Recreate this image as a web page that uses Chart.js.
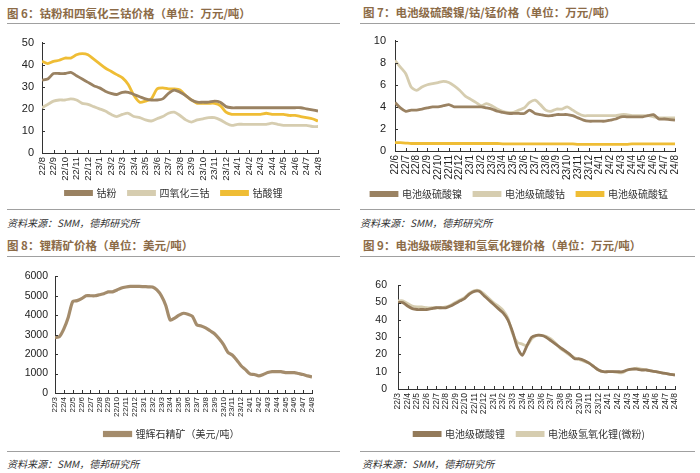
<!DOCTYPE html>
<html>
<head>
<meta charset="utf-8">
<script src="https://cdn.jsdelivr.net/npm/chart.js@4.4.1/dist/chart.umd.min.js"></script>
<style>
body{margin:0;width:700px;height:473px;background:#fff;position:relative;overflow:hidden;font-family:"Noto Sans CJK SC",sans-serif;}
.title{position:absolute;font-size:11.5px;line-height:14px;font-weight:bold;color:#8c6b47;white-space:nowrap;}
.rule{position:absolute;height:0;border-top:1.5px solid #a0a0a0;}
.src{position:absolute;font-size:10px;line-height:12px;color:#333;font-style:italic;white-space:nowrap;}
.box{position:absolute;}
</style>
</head>
<body>
<div class="title" style="left:7px;top:6px">图 6：钴粉和四氧化三钴价格（单位：万元/吨）</div>
<div class="rule" style="left:7px;top:23px;width:333px"></div>
<div class="rule" style="left:7px;top:209px;width:333px"></div>
<div class="src" style="left:7px;top:217px">资料来源：SMM，德邦研究所</div>

<div class="title" style="left:363px;top:5px">图 7：电池级硫酸镍/钴/锰价格（单位：万元/吨）</div>
<div class="rule" style="left:360px;top:23px;width:335px"></div>
<div class="rule" style="left:360px;top:209px;width:335px"></div>
<div class="src" style="left:360px;top:217px">资料来源：SMM，德邦研究所</div>

<div class="title" style="left:7px;top:238px">图 8：锂精矿价格（单位：美元/吨）</div>
<div class="rule" style="left:7px;top:256px;width:333px"></div>
<div class="rule" style="left:7px;top:451px;width:333px"></div>
<div class="src" style="left:7px;top:458px">资料来源：SMM，德邦研究所</div>

<div class="title" style="left:363px;top:238px">图 9：电池级碳酸锂和氢氧化锂价格（单位：万元/吨）</div>
<div class="rule" style="left:360px;top:256px;width:335px"></div>
<div class="rule" style="left:360px;top:451px;width:335px"></div>
<div class="src" style="left:362px;top:458px">资料来源：SMM，德邦研究所</div>

<div class="box" style="left:0px;top:28px"><canvas id="c6" width="345" height="185"></canvas></div>
<div class="box" style="left:350px;top:25px"><canvas id="c7" width="350" height="188"></canvas></div>
<div class="box" style="left:0px;top:263px"><canvas id="c8" width="345" height="188"></canvas></div>
<div class="box" style="left:350px;top:268px"><canvas id="c9" width="350" height="181"></canvas></div>

<script>
// month labels (one tick per month), data is twice a month
const months6 = ['22/8','22/9','22/10','22/11','22/12','23/1','23/2','23/3','23/4','23/5','23/6','23/7','23/8',
  '23/9','23/10','23/11','23/12','24/1','24/2','24/3','24/4','24/5','24/6','24/7','24/8'];
const months7 = ['22/6','22/7','22/8','22/9','22/10','22/11','22/12','23/1','23/2','23/3','23/4','23/5','23/6','23/7',
  '23/8','23/9','23/10','23/11','23/12','24/1','24/2','24/3','24/4','24/5','24/6','24/7','24/8'];
const months89 = ['22/3','22/4','22/5','22/6','22/7','22/8','22/9','22/10','22/11','22/12','23/1','23/2','23/3','23/4',
  '23/5','23/6','23/7','23/8','23/9','23/10','23/11','23/12','24/1','24/2','24/3','24/4','24/5','24/6','24/7','24/8'];

// 图6
const cobaltPowder = [33,33.5,36,36,36,36.5,35,33.5,32,30.5,29.5,28,27,26.5,27.5,27.5,26.5,25.5,24.5,24,24,24.5,27,28.5,27.5,
  26,24,23,23,23,23.5,23,21,20.5,20.5,20.5,20.5,20.5,20.5,20.5,20.5,20.5,20.5,20.5,20.5,20.5,20,19.5,19];
const cobaltOxide = [20.5,22,23.5,24,24,24.5,24,22.5,22,21,20,19,17.5,16.5,17.5,18,16.5,16,15,14.5,15.5,16.5,18,18.5,17,
  15,14,15,15.5,16,16,15,13.5,12.5,13,13,13,13,13,13,13.5,13,12.5,12.5,12.5,12.5,12.5,12,12];
const lco = [41.5,40.5,41.5,42,43,43,44.5,45,44.5,42.5,40.5,38.5,37,35.5,34,31,26,23,23.5,24.5,29,29.5,29,29,28.5,
  26,24,22.5,22.5,22.5,22.5,21.5,18.5,17.5,17.5,17.5,17.5,17.5,17.5,18,17.5,17.5,17.5,17,17,16.5,16,15.5,14.5];

// 图7
const nickelSulfate = [4.4,3.9,3.6,3.7,3.7,3.8,3.9,4.0,4.0,4.1,4.2,4.0,4.0,4.0,4.0,4.0,4.0,3.9,3.8,3.6,3.5,3.4,3.4,3.4,3.4,3.7,
  3.4,3.3,3.2,3.2,3.3,3.3,3.3,3.2,3.0,2.8,2.7,2.7,2.7,2.7,2.8,2.9,3.1,3.1,3.1,3.1,3.1,3.2,3.3,2.9,2.9,2.85,2.8];
const cobaltSulfate = [8.2,7.6,7.0,5.8,5.5,5.8,6.0,6.1,6.2,6.3,6.2,5.9,5.5,5.0,4.7,4.4,4.1,4.3,4.1,3.8,3.6,3.5,3.5,3.7,3.9,4.4,
  4.6,4.2,3.7,3.6,3.8,3.8,4.0,3.7,3.4,3.2,3.2,3.2,3.2,3.2,3.2,3.2,3.3,3.3,3.2,3.2,3.2,3.2,3.1,3.0,3.0,3.0,3.0];
const manganeseSulfate = [0.75,0.75,0.72,0.68,0.68,0.68,0.68,0.68,0.68,0.68,0.68,0.68,0.68,0.68,0.68,0.68,0.68,0.68,0.68,0.68,
  0.65,0.65,0.65,0.65,0.65,0.65,0.65,0.65,0.65,0.65,0.65,0.65,0.65,0.65,0.6,0.6,0.6,0.6,0.6,0.6,0.6,0.6,0.6,0.6,
  0.65,0.65,0.65,0.65,0.65,0.65,0.65,0.65,0.65];

// 图8
const spodumene = [2850,2900,3300,3900,4700,4750,4850,5000,5000,5000,5050,5100,5200,5200,5300,5400,5450,5480,5480,5480,
  5470,5460,5450,5300,5000,4500,3750,3850,4000,4100,4050,3950,3500,3450,3350,3200,3050,2800,2500,2100,1950,1700,1400,
  1200,980,950,880,950,1050,1100,1100,1100,1050,1050,1050,1000,950,880,830];

// 图9
const carbonate = [50,50,48,46.5,46,46,46,46.5,47,47,47,48,49.5,51,52.5,55,56.5,56.5,54,51.5,49,46.5,44,40,33,24,19.5,25,
  30,31,31,30,28,26,24,22,20,17.5,17.5,16.5,15,13,11,10,10,10,10,10,11,11.5,11.5,11,11,10.5,10,9.5,9,8.5,8];
const hydroxide = [51,51,49.5,48,47.5,47.5,47,47,47,47,47.5,48.5,50,51.5,53,55.5,57,57,55,52.5,50,48,45.5,41,32,27,26,25,
  29,31,31,30.5,29,26.5,23.5,21.5,19.5,18,17,16,15,13,11,10,10,10,9.5,9.5,11,11.5,12,11.5,11,10.5,10,9.5,9,8.5,8.5];

const BROWN = '#9a8262', LIGHT = '#d6cdb0', YELLOW = '#efbd35';
const NUM_FONT = '"Liberation Sans", Arial, sans-serif';
const CJK_FONT = '"Noto Sans CJK SC", sans-serif';

function pts(arr) { return arr.map((v, i) => ({x: i / 2, y: v})); }

// small tick marks drawn on the inside of both axes
const innerTicks = {
  id: 'innerTicks',
  afterDraw(chart) {
    const ctx = chart.ctx, xs = chart.scales.x, ys = chart.scales.y;
    ctx.save();
    ctx.strokeStyle = '#333';
    ctx.lineWidth = 1;
    ctx.beginPath();
    xs.ticks.forEach((t, i) => {
      const px = Math.round(xs.getPixelForTick(i)) + 0.5;
      ctx.moveTo(px, ys.bottom); ctx.lineTo(px, ys.bottom - 3);
    });
    ys.ticks.forEach((t, i) => {
      const py = Math.round(ys.getPixelForTick(i)) + 0.5;
      ctx.moveTo(xs.left, py); ctx.lineTo(xs.left + 3, py);
    });
    ctx.stroke();
    ctx.restore();
  }
};

// nudge the legend box after layout
const legendShift = {
  id: 'legendShift',
  afterLayout(chart, args, opts) {
    const lg = chart.legend;
    if (!lg) return;
    lg.left += opts.dx || 0; lg.right += opts.dx || 0;
    lg.top += opts.dy || 0; lg.bottom += opts.dy || 0;
  }
};

function makeChart(id, o) {
  const datasets = o.series.map(s => ({
    label: s.label,
    data: pts(s.data),
    borderColor: s.color,
    backgroundColor: s.color,
    borderWidth: o.lineWidth || 2.8,
    pointRadius: 0,
    tension: 0.25
  }));
  return new Chart(document.getElementById(id), {
    type: 'line',
    data: {datasets: datasets},
    plugins: [innerTicks, legendShift],
    options: {
      responsive: false,
      animation: false,
      layout: {padding: {top: o.padTop, right: o.padRight, left: 0, bottom: 0}},
      plugins: {
        tooltip: {enabled: false},
        legendShift: {dx: o.legendDx, dy: o.legendDy},
        legend: {
          position: 'bottom',
          labels: {
            boxWidth: 26, boxHeight: 3, padding: 12,
            color: '#333',
            font: {family: CJK_FONT, size: 10}
          }
        }
      },
      scales: {
        x: {
          type: 'linear',
          min: 0, max: o.months.length - 1,
          afterFit: s => { s.height = o.xHeight; },
          afterBuildTicks: s => { s.ticks = o.months.map((m, i) => ({value: i})); },
          grid: {display: false, drawTicks: false},
          border: {display: true, color: '#333', width: 1},
          ticks: {
            autoSkip: false, minRotation: 90, maxRotation: 90, padding: 4,
            color: '#222',
            font: {family: NUM_FONT, size: o.xFont},
            callback: v => o.months[Math.round(v)]
          }
        },
        y: {
          min: 0, max: o.yMax,
          afterFit: s => { s.width = o.yWidth; },
          grid: {display: false, drawTicks: false},
          border: {display: true, color: '#333', width: 1},
          ticks: {
            stepSize: o.yStep, padding: o.yPad,
            color: '#222',
            font: {family: NUM_FONT, size: o.yFont},
            callback: v => String(v)
          }
        }
      }
    }
  });
}

makeChart('c6', {
  months: months6, yMax: 50, yStep: 10,
  padTop: 10, padRight: 27, yWidth: 42, xHeight: 28, xFont: 9.5, yFont: 11, yPad: 8,
  legendDx: 15, legendDy: -5,
  series: [
    {label: '钴粉', data: cobaltPowder, color: BROWN},
    {label: '四氧化三钴', data: cobaltOxide, color: LIGHT},
    {label: '钴酸锂', data: lco, color: YELLOW}
  ]
});

makeChart('c7', {
  months: months7, yMax: 10, yStep: 2,
  padTop: 10, padRight: 25, yWidth: 45, xHeight: 30, xFont: 10, yFont: 11, yPad: 9,
  legendDx: 7, legendDy: -4,
  series: [
    {label: '电池级硫酸镍', data: nickelSulfate, color: BROWN},
    {label: '电池级硫酸钴', data: cobaltSulfate, color: LIGHT},
    {label: '电池级硫酸锰', data: manganeseSulfate, color: YELLOW}
  ]
});

makeChart('c8', {
  months: months89, yMax: 6000, yStep: 1000,
  padTop: 10, padRight: 33, yWidth: 55, xHeight: 26, xFont: 8, yFont: 10.5, yPad: 7, lineWidth: 3.2,
  legendDx: 16, legendDy: -2,
  series: [
    {label: '锂辉石精矿（美元/吨）', data: spodumene, color: '#a48c6c'}
  ]
});

makeChart('c9', {
  months: months89, yMax: 60, yStep: 10,
  padTop: 10, padRight: 25, yWidth: 48, xHeight: 28, xFont: 8.5, yFont: 10.5, yPad: 11,
  legendDx: 17, legendDy: 0,
  series: [
    {label: '电池级碳酸锂', data: carbonate, color: '#937a5a'},
    {label: '电池级氢氧化锂(微粉)', data: hydroxide, color: LIGHT}
  ]
});
</script>
</body>
</html>
